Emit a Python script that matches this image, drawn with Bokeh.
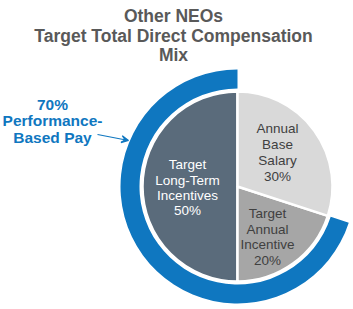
import math
from bokeh.plotting import figure
from bokeh.models import Range1d, Arrow, VeeHead, ColumnDataSource
from bokeh.core.properties import value
from bokeh.embed import file_html
from bokeh.resources import INLINE

# ---- data ----
title_lines = ["Other NEOs", "Target Total Direct Compensation", "Mix"]
categories = ["Target Long-Term Incentives", "Target Annual Incentive", "Annual Base Salary"]
shares = [50, 20, 30]  # percent, counter-clockwise order starting at 12 o'clock
slice_labels = [["Target", "Long-Term", "Incentives", "50%"],
                ["Target", "Annual", "Incentive", "20%"],
                ["Annual", "Base", "Salary", "30%"]]
performance_share = 70
performance_label = ["70%", "Performance-", "Based Pay"]

# ---- styles ----
W, H = 353, 309
FONT = "Liberation Sans"
slice_colors = ["#5a6b7b", "#a6a6a6", "#d9d9d9"]
label_colors = ["#ffffff", "#404040", "#404040"]
blue = "#0f77c0"
cx, cy = 237, H - 186
r_pie = 95
r_in, r_out = 98, 117

def Y(px):
    return H - px

p = figure(width=W, height=H, output_backend="svg", toolbar_location=None,
           x_range=Range1d(0, W), y_range=Range1d(0, H), min_border=0)
p.axis.visible = False
p.grid.visible = False
p.outline_line_color = None
p.background_fill_color = "white"
p.border_fill_color = "white"

# pie slices
total = sum(shares)
starts, ends = [], []
acc = 0.0
for s in shares:
    a0 = math.pi / 2 + 2 * math.pi * acc / total
    acc += s
    a1 = math.pi / 2 + 2 * math.pi * acc / total
    starts.append(a0)
    ends.append(a1)
src = ColumnDataSource(dict(x=[cx] * len(shares), y=[cy] * len(shares),
                            start=starts, end=ends, color=slice_colors))
p.wedge(x="x", y="y", radius=r_pie, start_angle="start", end_angle="end",
        fill_color="color", line_color="white", line_width=2.5, source=src)

# outer performance ring
ring_end = math.pi / 2 + 2 * math.pi * performance_share / 100
p.annular_wedge(x=cx, y=cy, inner_radius=r_in, outer_radius=r_out,
                start_angle=math.pi / 2, end_angle=ring_end,
                fill_color=blue, line_color=None)

# slice labels
label_pos = [(187, [164, 180, 195, 210]),
             (267, [213, 229, 244, 260]),
             (277, [128, 144, 160, 176])]
for lines, (lx, ys), col in zip(slice_labels, label_pos, label_colors):
    p.text(x=[lx] * len(lines), y=[Y(v) for v in ys], text=lines,
           text_font=value(FONT), text_font_size="13.5px", text_color=col,
           text_align="center", text_baseline="middle")

# title
p.text(x=[173] * 3, y=[Y(15), Y(35), Y(54)], text=title_lines,
       text_font=value(FONT), text_font_size="17.5px", text_font_style="bold",
       text_color="#595959", text_align="center", text_baseline="middle")

# performance label
p.text(x=[52] * 3, y=[Y(104), Y(120), Y(137)], text=performance_label,
       text_font=value(FONT), text_font_size="15.5px", text_font_style="bold",
       text_color=blue, text_align="center", text_baseline="middle")

p.add_layout(Arrow(end=VeeHead(size=7, line_color=blue, fill_color=blue, line_width=1.2),
                   x_start=97, y_start=Y(134), x_end=128, y_end=Y(140),
                   line_color=blue, line_width=1.2))

open("out.html", "w").write(file_html(p, INLINE))
